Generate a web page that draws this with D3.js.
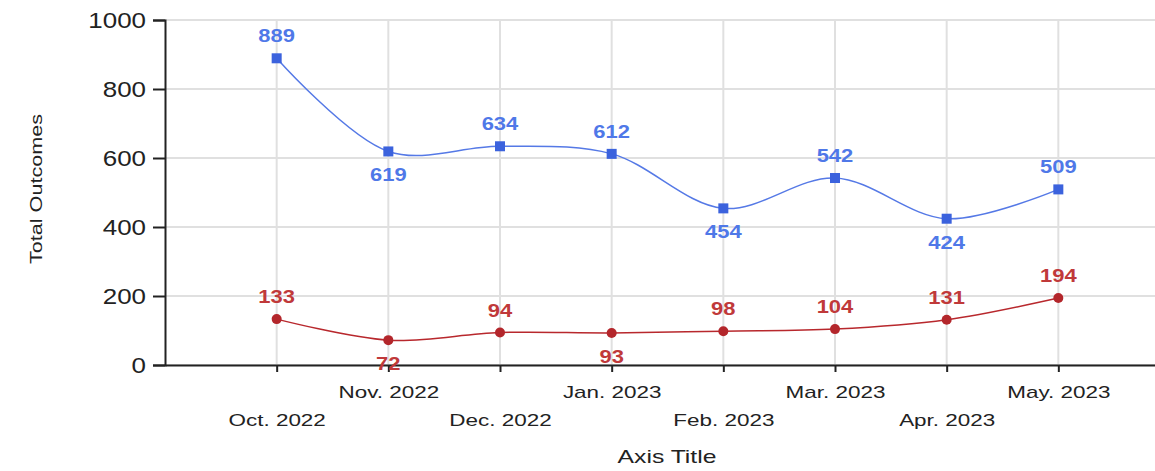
<!DOCTYPE html>
<html>
<head>
<meta charset="utf-8">
<script src="https://cdn.jsdelivr.net/npm/d3@7"></script>
<style>
  body { margin: 0; background: #fff; }
  svg { font-family: "Liberation Sans", Arial, sans-serif; }
</style>
</head>
<body>
<div id="chart"></div>
<script>
// Monthly totals, two series
const months = ["Oct. 2022", "Nov. 2022", "Dec. 2022", "Jan. 2023",
                "Feb. 2023", "Mar. 2023", "Apr. 2023", "May. 2023"];
const blueValues = [889, 619, 634, 612, 454, 542, 424, 509];
const redValues = [133, 72, 94, 93, 98, 104, 131, 194];
// label above (-1) or below (1) the point
const bluePlace = [-1, 1, -1, -1, 1, -1, 1, -1];
const redPlace = [-1, 1, -1, 1, -1, -1, -1, -1];
const yTicks = [0, 200, 400, 600, 800, 1000];

const width = 1155, height = 471;
const plotLeft = 165, plotTop = 20, plotBottom = 365, plotRight = 1170;
const FONT = '"Liberation Sans", Arial, sans-serif';

const svg = d3.select('#chart').append('svg')
    .attr('width', width)
    .attr('height', height);

// the original text is drawn wide, so stretch glyphs horizontally
function stretch(sel, k) {
    sel.each(function() {
        const w = this.getComputedTextLength();
        d3.select(this).attr('textLength', w * k).attr('lengthAdjust', 'spacingAndGlyphs');
    });
}

const x = d3.scalePoint().domain(months).range([plotLeft, plotRight]).padding(1);
const y = d3.scaleLinear().domain([0, 1000]).range([plotBottom, plotTop]);

// grid
svg.append('g').selectAll('line').data(yTicks).join('line')
    .attr('x1', plotLeft).attr('x2', plotRight)
    .attr('y1', d => y(d)).attr('y2', d => y(d))
    .attr('stroke', '#e0e0e0').attr('stroke-width', 2);
svg.append('g').selectAll('line').data(months).join('line')
    .attr('x1', d => x(d)).attr('x2', d => x(d))
    .attr('y1', plotTop).attr('y2', plotBottom)
    .attr('stroke', '#e0e0e0').attr('stroke-width', 2);

// y axis
const yAxis = svg.append('g')
    .attr('transform', `translate(${plotLeft},0)`)
    .call(d3.axisLeft(y).tickValues(yTicks).tickFormat(d3.format('d'))
        .tickSize(12).tickPadding(7));
yAxis.select('.domain').attr('stroke', '#222').attr('stroke-width', 2);
yAxis.selectAll('.tick line').attr('stroke', '#222').attr('stroke-width', 2);
yAxis.selectAll('.tick text').attr('font-size', 22).attr('fill', '#222')
    .attr('font-family', FONT)
    .attr('dy', '0.36em')
    .call(stretch, 1.18);

// x axis
const xAxis = svg.append('g')
    .attr('transform', `translate(0,${plotBottom})`)
    .call(d3.axisBottom(x).tickSize(7).tickSizeOuter(0));
xAxis.select('.domain').attr('stroke', '#222').attr('stroke-width', 2);
xAxis.selectAll('.tick line').attr('stroke', '#222').attr('stroke-width', 2);
xAxis.selectAll('.tick text')
    .attr('font-size', 17).attr('fill', '#222')
    .attr('font-family', FONT)
    .attr('dy', null)
    .attr('y', (d, i) => i % 2 === 0 ? 61 : 33)
    .call(stretch, 1.32);

// titles
svg.append('text')
    .attr('x', 667).attr('y', 463)
    .attr('text-anchor', 'middle')
    .attr('font-size', 19).attr('fill', '#222')
    .text('Axis Title')
    .call(stretch, 1.3);
svg.append('text')
    .attr('transform', 'translate(42,189) rotate(-90)')
    .attr('text-anchor', 'middle')
    .attr('font-size', 17).attr('fill', '#222')
    .text('Total Outcomes')
    .call(stretch, 1.27);

const line = d3.line()
    .x((d, i) => x(months[i]))
    .y(d => y(d))
    .curve(d3.curveCatmullRom.alpha(0.5));

function drawSeries(values, place, stroke, markColor, labelColor, shape) {
    const g = svg.append('g');
    g.append('path').datum(values)
        .attr('d', line)
        .attr('fill', 'none')
        .attr('stroke', stroke)
        .attr('stroke-width', 1.5);
    if (shape === 'square') {
        g.selectAll('rect').data(values).join('rect')
            .attr('x', (d, i) => x(months[i]) - 5)
            .attr('y', d => y(d) - 5)
            .attr('width', 10).attr('height', 10)
            .attr('fill', markColor);
    } else {
        g.selectAll('circle').data(values).join('circle')
            .attr('cx', (d, i) => x(months[i]))
            .attr('cy', d => y(d))
            .attr('r', 5)
            .attr('fill', markColor);
    }
    g.selectAll('text').data(values).join('text')
        .attr('x', (d, i) => x(months[i]))
        .attr('y', (d, i) => y(d) + (place[i] < 0 ? -16 : 30))
        .attr('text-anchor', 'middle')
        .attr('font-size', 18)
        .attr('font-weight', 'bold')
        .attr('fill', labelColor)
        .text(d => d)
        .call(stretch, 1.22);
}

drawSeries(blueValues, bluePlace, '#5579e6', '#3b62dd', '#4f78e8', 'square');
drawSeries(redValues, redPlace, '#b8282d', '#b3262b', '#c0393a', 'circle');
</script>
</body>
</html>
